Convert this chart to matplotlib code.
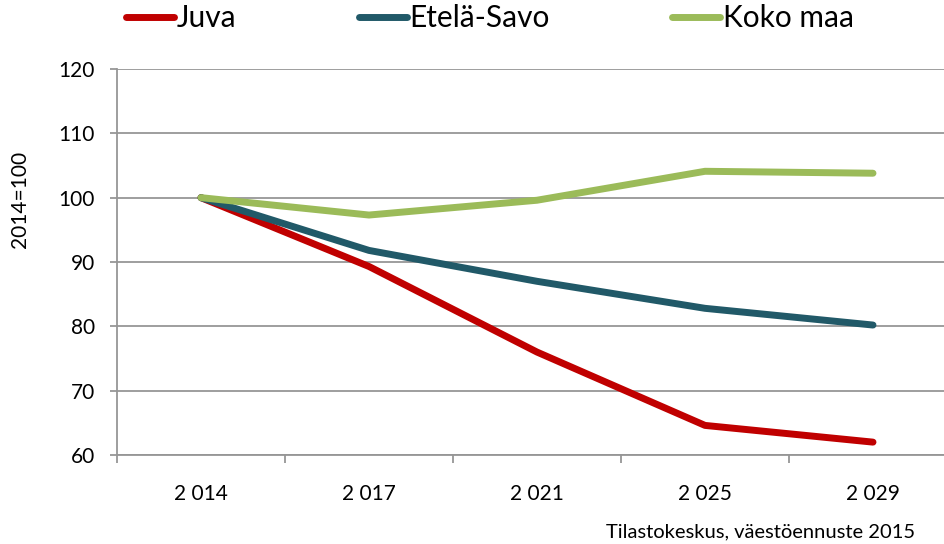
import numpy as np
from matplotlib import pyplot as plt

years = ["2 014", "2 017", "2 021", "2 025", "2 029"]
juva = [100.0, 89.3, 76.0, 64.6, 62.0]
etela_savo = [100.0, 91.8, 87.0, 82.8, 80.2]
koko_maa = [100.0, 97.3, 99.6, 104.1, 103.8]

plt.rcParams['font.family'] = ['Lato', 'DejaVu Sans']

fig = plt.figure(figsize=(9.44, 5.44), dpi=100)
ax = fig.add_axes([117/944, 1-455/544, 840/944, (455-69)/544])

x = np.arange(len(years))
ax.plot(x, juva, color='#C00000', lw=5, solid_capstyle='round', label='Juva', zorder=3)
ax.plot(x, etela_savo, color='#215968', lw=5, solid_capstyle='round', label='Etelä-Savo', zorder=3)
ax.plot(x, koko_maa, color='#9BBB59', lw=5, solid_capstyle='round', label='Koko maa', zorder=3)

ax.set_xlim(-0.5, len(years)-0.5)
ax.set_ylim(60, 120)
ax.set_yticks(range(60, 121, 10))
ax.yaxis.grid(True, color='#969696', lw=1.3)
ax.set_axisbelow(True)

ax.set_xticks(x)
ax.set_xticklabels(years, fontsize=15)
ax.set_xticks(np.arange(-0.5, len(years), 1), minor=True)
ax.tick_params(axis='x', which='major', length=0, pad=21)
ax.tick_params(axis='x', which='minor', length=6, width=1.3, color='#969696')
ax.tick_params(axis='y', length=5, width=1.3, color='#969696', labelsize=15, pad=11)

for s in ['top', 'right']:
    ax.spines[s].set_visible(False)
for s in ['left', 'bottom']:
    ax.spines[s].set_color('#969696')
    ax.spines[s].set_linewidth(1.3)

fig.text(20/944, 1-199/544, "2014=100", rotation=90, ha='center', va='center', fontsize=15)
fig.text(915/944, 1-532/544, "Tilastokeskus, väestöennuste 2015", ha='right', va='center', fontsize=14.5)

leg = fig.legend(loc='center left', bbox_to_anchor=(126/944, 1-18/544), ncol=3,
                 frameon=False, fontsize=21.5, handlelength=1.6, handletextpad=0.1,
                 columnspacing=4.1, borderaxespad=0, borderpad=0)

fig.savefig('out.png', dpi=100)
